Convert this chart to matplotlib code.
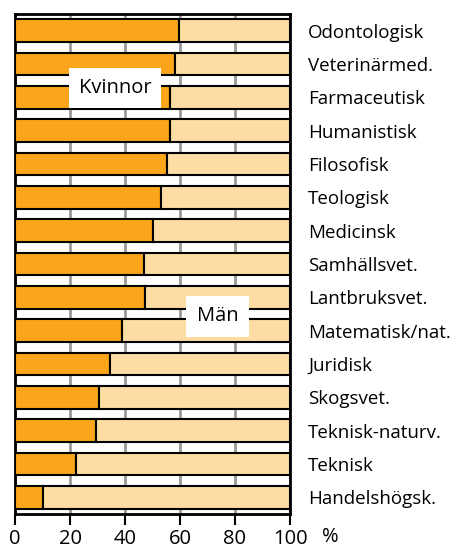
import matplotlib.pyplot as plt

# Share of women by faculty (%)
faculties = ['Odontologisk', 'Veterinärmed.', 'Farmaceutisk', 'Humanistisk',
             'Filosofisk', 'Teologisk', 'Medicinsk', 'Samhällsvet.',
             'Lantbruksvet.', 'Matematisk/nat.', 'Juridisk', 'Skogsvet.',
             'Teknisk-naturv.', 'Teknisk', 'Handelshögsk.']
women = [59.5, 58, 56.5, 56.5, 55.3, 53, 50, 47, 47.2, 38.8, 34.5, 30.5, 29.4, 22.3, 10]
men = [100 - w for w in women]

plt.rcParams['font.family'] = ['Open Sans', 'DejaVu Sans']

fig = plt.figure(figsize=(4.55, 5.49), dpi=100)
ax = fig.add_axes([15 / 455, 1 - 514 / 549, 275 / 455, 500 / 549])

y = list(range(len(faculties)))
ax.barh(y, women, height=0.68, color='#FBA61A', edgecolor='black', linewidth=1.5, zorder=3)
ax.barh(y, men, left=women, height=0.68, color='#FEDDA4', edgecolor='black', linewidth=1.5, zorder=3)

ax.set_xlim(0, 100)
ax.set_ylim(len(faculties) - 0.5, -0.5)
ax.set_xticks([0, 20, 40, 60, 80, 100])
ax.grid(axis='x', color='#999999', linewidth=2, zorder=0)
ax.tick_params(axis='x', direction='out', length=8, width=1.5, labelsize=14.5, pad=3)

ax.yaxis.tick_right()
ax.set_yticks(y)
ax.set_yticklabels(faculties, fontsize=13.5)
ax.tick_params(axis='y', length=0, pad=13)

for s in ax.spines.values():
    s.set_linewidth(2)

fig.text(330 / 455, 1 - 537 / 549, '%', fontsize=14.5, ha='center', va='center')

ax.text(36.5, 1.72, 'Kvinnor', fontsize=14.5, ha='center', va='center', zorder=5,
        bbox=dict(facecolor='white', edgecolor='none', pad=7))
ax.text(73.6, 8.57, 'Män', fontsize=14.5, ha='center', va='center', zorder=5,
        bbox=dict(facecolor='white', edgecolor='none', pad=7.5))

fig.savefig('out.png', dpi=100)
